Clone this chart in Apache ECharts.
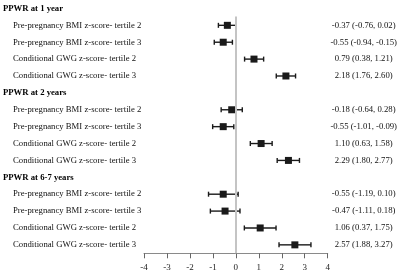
<!DOCTYPE html>
<html>
<head>
<meta charset="utf-8">
<script src="https://cdn.jsdelivr.net/npm/echarts@6/dist/echarts.min.js"></script>
<style>
  html, body { margin: 0; padding: 0; background: #fff; }
  #chart { width: 400px; height: 274px; }
</style>
</head>
<body>
<div id="chart"></div>
<script>
// row labels, top to bottom (headers have no estimate)
const rowLabels = [
  "PPWR at 1 year",
  "Pre-pregnancy BMI z-score- tertile 2",
  "Pre-pregnancy BMI z-score- tertile 3",
  "Conditional GWG z-score- tertile 2",
  "Conditional GWG z-score- tertile 3",
  "PPWR at 2 years",
  "Pre-pregnancy BMI z-score- tertile 2",
  "Pre-pregnancy BMI z-score- tertile 3",
  "Conditional GWG z-score- tertile 2",
  "Conditional GWG z-score- tertile 3",
  "PPWR at 6-7 years",
  "Pre-pregnancy BMI z-score- tertile 2",
  "Pre-pregnancy BMI z-score- tertile 3",
  "Conditional GWG z-score- tertile 2",
  "Conditional GWG z-score- tertile 3",
];
const headerRows = [0, 5, 10];

// estimates and 95% CI, per row (null for headers)
const estimates = [null, -0.37, -0.55, 0.79, 2.18, null, -0.18, -0.55, 1.10, 2.29, null, -0.55, -0.47, 1.06, 2.57];
const lowerCI   = [null, -0.76, -0.94, 0.38, 1.76, null, -0.64, -1.01, 0.63, 1.80, null, -1.19, -1.11, 0.37, 1.88];
const upperCI   = [null,  0.02, -0.15, 1.21, 2.60, null,  0.28, -0.09, 1.58, 2.77, null,  0.10,  0.18, 1.75, 3.27];

const xTicks = [-4, -3, -2, -1, 0, 1, 2, 3, 4];

const fontFamily = '"Liberation Serif", "Times New Roman", serif';

function fmt(v) {
  return v.toFixed(2);
}

const ciLabels = estimates.map((e, i) =>
  e === null ? "" : fmt(e) + " (" + fmt(lowerCI[i]) + ", " + fmt(upperCI[i]) + ")"
);

const pointData = [];
const barData = [];
estimates.forEach((e, i) => {
  if (e === null) return;
  pointData.push([e, i]);
  barData.push([i, lowerCI[i], upperCI[i]]);
});

const chart = echarts.init(document.getElementById("chart"), null, { renderer: "canvas" });

const option = {
  animation: false,
  backgroundColor: "#fff",
  textStyle: { fontFamily: fontFamily },
  grid: { left: 143, right: 71, top: -3.6, bottom: 20.7 },
  xAxis: {
    type: "value",
    min: xTicks[0],
    max: xTicks[xTicks.length - 1],
    interval: 1,
    splitLine: { show: false },
    axisLine: { show: true, onZero: false, lineStyle: { color: "#8a8a8a", width: 1 } },
    axisTick: { show: true, length: 5, lineStyle: { color: "#666" } },
    axisLabel: { color: "#222", fontSize: 9, fontFamily: fontFamily, margin: 10 },
  },
  yAxis: [
    {
      type: "value",
      inverse: true,
      min: -0.5,
      max: 14.5,
      interval: 0.5,
      position: "left",
      splitLine: { show: false },
      axisLine: { show: false },
      axisTick: { show: false },
      axisLabel: {
        align: "left",
        margin: 141,
        color: "#111",
        fontFamily: fontFamily,
        fontSize: 8.7,
        formatter: function (v) {
          if (!Number.isInteger(v) || v < 0 || v >= rowLabels.length) return "";
          if (headerRows.indexOf(v) >= 0) return "{h|" + rowLabels[v] + "}";
          return "{i|" + rowLabels[v] + "}";
        },
        rich: {
          h: { fontWeight: "bold", fontSize: 8.7, fontFamily: fontFamily, color: "#000" },
          i: { fontSize: 8.7, fontFamily: fontFamily, color: "#111", padding: [0, 0, 0, 10] },
        },
      },
    },
    {
      type: "value",
      inverse: true,
      min: -0.5,
      max: 14.5,
      interval: 0.5,
      position: "right",
      splitLine: { show: false },
      axisLine: { show: false },
      axisTick: { show: false },
      axisLabel: {
        align: "center",
        margin: 36,
        color: "#111",
        fontFamily: fontFamily,
        fontSize: 8.7,
        formatter: function (v) {
          if (!Number.isInteger(v) || v < 0 || v >= ciLabels.length) return "";
          return ciLabels[v];
        },
      },
    },
  ],
  series: [
    {
      type: "custom",
      yAxisIndex: 0,
      silent: true,
      data: barData,
      renderItem: function (params, api) {
        const row = api.value(0);
        const lo = api.coord([api.value(1), row]);
        const hi = api.coord([api.value(2), row]);
        const cap = 2.5;
        const style = { stroke: "#1a1a1a", lineWidth: 1.4 };
        return {
          type: "group",
          children: [
            { type: "line", shape: { x1: lo[0], y1: lo[1], x2: hi[0], y2: hi[1] }, style: style },
            { type: "line", shape: { x1: lo[0], y1: lo[1] - cap, x2: lo[0], y2: lo[1] + cap }, style: style },
            { type: "line", shape: { x1: hi[0], y1: hi[1] - cap, x2: hi[0], y2: hi[1] + cap }, style: style },
          ],
        };
      },
      markLine: {
        silent: true,
        symbol: "none",
        label: { show: false },
        lineStyle: { color: "#c4c4c4", width: 2, type: "solid" },
        data: [[{ coord: [0, 0.47] }, { coord: [0, 14.5] }]],
      },
      z: 2,
    },
    {
      type: "scatter",
      yAxisIndex: 0,
      symbol: "rect",
      symbolSize: 7,
      itemStyle: { color: "#1a1a1a", opacity: 1 },
      data: pointData,
      z: 3,
    },
  ],
};

chart.setOption(option);
</script>
</body>
</html>
